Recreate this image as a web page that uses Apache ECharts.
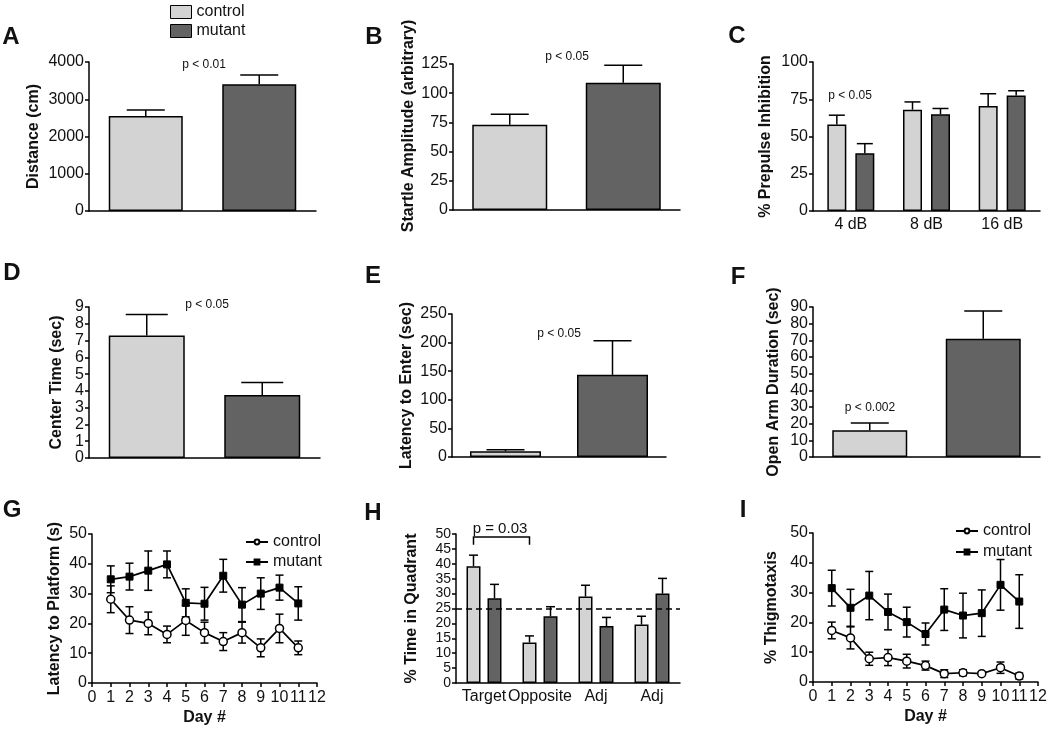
<!DOCTYPE html>
<html>
<head>
<meta charset="utf-8">
<script src="https://cdn.jsdelivr.net/npm/echarts@6/dist/echarts.min.js"></script>
<style>
html,body{margin:0;padding:0;background:#fff;}
#chart{width:1050px;height:731px;}
</style>
</head>
<body>
<div id="chart"></div>
<script>
// ---------- DATA ----------
const groups = ['control', 'mutant'];
// A: Distance (cm)
const distance = [2550, 3400];
const distanceErr = [160, 250];
// B: Startle amplitude
const startle = [73, 109];
const startleErr = [9, 15];
// C: % Prepulse inhibition
const ppiCategories = ['4 dB', '8 dB', '16 dB'];
const ppiControl = [58, 68, 70.5];
const ppiControlErr = [6.3, 5.2, 8.2];
const ppiMutant = [38.7, 65, 77.5];
const ppiMutantErr = [6.5, 3.8, 3.2];
// D: Center time (sec)
const centerTime = [7.3, 3.75];
const centerTimeErr = [1.25, 0.75];
// E: Latency to enter (sec)
const latencyEnter = [10, 143.6];
const latencyEnterErr = [2.7, 59.5];
// F: Open arm duration (sec)
const openArm = [16, 71];
const openArmErr = [4.4, 16.6];
// G: Latency to platform (s)
const days = [1, 2, 3, 4, 5, 6, 7, 8, 9, 10, 11];
const platformControl = [28.1, 21.1, 20, 16.3, 21, 16.9, 13.9, 16.9, 11.8, 18.3, 11.8];
const platformControlErr = [4.5, 4.5, 3.8, 2.8, 5, 3.5, 3, 3.5, 3, 4.8, 2.3];
const platformMutant = [34.8, 35.7, 37.7, 39.8, 26.9, 26.6, 36, 26.3, 30, 32, 26.7];
const platformMutantErr = [4.5, 4.5, 6.6, 4.5, 4.7, 5.5, 5.5, 5.7, 5.3, 4.2, 5.6];
// H: % Time in quadrant
const quadrants = ['Target', 'Opposite', 'Adj', 'Adj'];
const quadControl = [39.2, 13.6, 29, 19.6];
const quadControlErr = [3.7, 2.2, 3.8, 2.8];
const quadMutant = [28.4, 22.4, 19.1, 30];
const quadMutantErr = [4.7, 3.2, 2.9, 5.1];
const chanceLevel = 25;
const bracketLevel = 49;
// I: % Thigmotaxis
const thigControl = [17.3, 14.8, 7.8, 8.2, 7, 5.5, 2.8, 3.1, 2.8, 4.8, 2];
const thigControlErr = [2.8, 3.7, 2.2, 2.7, 2.3, 1.5, 1.3, 1, 0.5, 1.9, 1];
const thigMutant = [31.5, 24.9, 29, 23.5, 20.1, 16.1, 24.3, 22.3, 23.1, 32.6, 27];
const thigMutantErr = [6, 6.2, 8.1, 6, 5, 3.7, 7, 7.5, 7.8, 8.5, 9];

// ---------- STYLE ----------
const FONT = 'Liberation Sans, Arial, Helvetica, sans-serif';
const C_CTRL = '#d3d3d3';
const C_MUT = '#636363';
const colors = [C_CTRL, C_MUT];
const AXIS_LINE = {lineStyle: {color: '#000', width: 1.5}};

// grid layout per panel: [left, top, width, height]
const grids = [
  [89, 62, 227, 149],   // A
  [453, 64, 227, 146],  // B
  [813, 62, 227, 149],  // C
  [89, 307, 231, 151],  // D
  [452, 314, 214, 143], // E
  [813, 307, 227, 150], // F
  [92, 534, 225, 149],  // G
  [456, 534, 224, 149], // H
  [813, 533, 225, 149]  // I
];

const xAxes = [], yAxes = [], series = [];

function yAxisDef(i, name, max, interval, nameGap, extra, labelExtra) {
  return Object.assign({
    type: 'value', gridIndex: i, min: 0, max: max, interval: interval,
    name: name, nameLocation: 'middle', nameGap: nameGap,
    nameTextStyle: {fontFamily: FONT, fontSize: 16, fontWeight: 'bold', color: '#111'},
    axisLine: Object.assign({show: true}, AXIS_LINE),
    axisTick: {show: true, length: 4, lineStyle: {color: '#000', width: 1.5}},
    axisLabel: Object.assign({fontFamily: FONT, fontSize: 16, color: '#111', margin: 5,
      showMinLabel: true, showMaxLabel: true, hideOverlap: false,
      formatter: v => String(v)}, labelExtra || {}),
    splitLine: {show: false}
  }, extra || {});
}

function catXAxis(i, cats, showLabels) {
  return {
    type: 'category', gridIndex: i, data: cats,
    axisLine: AXIS_LINE, axisTick: {show: false},
    axisLabel: {show: showLabels, interval: 0, fontFamily: FONT, fontSize: 16, color: '#111', margin: 6},
    splitLine: {show: false}
  };
}

function errRender(capHalf, offsetPx, both) {
  return function (params, api) {
    const x = api.value(0), y = api.value(1), e = api.value(2);
    const mid = api.coord([x, y]);
    const top = api.coord([x, y + e]);
    const bot = api.coord([x, both ? y - e : y]);
    const cx = mid[0] + offsetPx;
    const st = {stroke: '#000', lineWidth: 1.5};
    const ch = [
      {type: 'line', shape: {x1: cx, y1: top[1], x2: cx, y2: bot[1]}, style: st},
      {type: 'line', shape: {x1: cx - capHalf, y1: top[1], x2: cx + capHalf, y2: top[1]}, style: st}
    ];
    if (both) ch.push({type: 'line', shape: {x1: cx - capHalf, y1: bot[1], x2: cx + capHalf, y2: bot[1]}, style: st});
    return {type: 'group', children: ch};
  };
}

function errSeries(i, vals, errs, capHalf, offsetPx, both, xs) {
  return {
    type: 'custom', xAxisIndex: i, yAxisIndex: i, z: both ? 1 : 3,
    silent: true,
    renderItem: errRender(capHalf, offsetPx, both),
    data: vals.map((v, j) => [xs ? xs[j] : j, v, errs[j]])
  };
}

// ---------- LINE PANELS (first so legends pick them) ----------
function linePanel(i, yName, nameGap, ctrl, ctrlErr, mut, mutErr) {
  xAxes[i] = {
    type: 'value', gridIndex: i, min: 0, max: 12, interval: 1,
    name: 'Day #', nameLocation: 'middle', nameGap: 27,
    nameTextStyle: {fontFamily: FONT, fontSize: 16, fontWeight: 'bold', color: '#111'},
    axisLine: AXIS_LINE,
    axisTick: {show: true, length: 4, lineStyle: {color: '#000', width: 1.5}},
    axisLabel: {fontFamily: FONT, fontSize: 16, color: '#111', margin: 7,
      showMinLabel: true, showMaxLabel: true},
    splitLine: {show: false}
  };
  yAxes[i] = yAxisDef(i, yName, 50, 10, nameGap);
  series.push({
    name: 'control', type: 'line', xAxisIndex: i, yAxisIndex: i, z: 3,
    data: days.map((d, j) => [d, ctrl[j]]),
    symbol: 'circle', symbolSize: 8,
    itemStyle: {color: '#fff', borderColor: '#000', borderWidth: 1.5},
    lineStyle: {color: '#000', width: 1.7}
  });
  series.push({
    name: 'mutant', type: 'line', xAxisIndex: i, yAxisIndex: i, z: 3,
    data: days.map((d, j) => [d, mut[j]]),
    symbol: 'rect', symbolSize: 7,
    itemStyle: {color: '#000', borderColor: '#000', borderWidth: 1},
    lineStyle: {color: '#000', width: 1.7}
  });
  series.push(errSeries(i, ctrl, ctrlErr, 4, 0, true, days));
  series.push(errSeries(i, mut, mutErr, 4, 0, true, days));
}
linePanel(6, 'Latency to Platform (s)', 29, platformControl, platformControlErr, platformMutant, platformMutantErr);
linePanel(8, '% Thigmotaxis', 33, thigControl, thigControlErr, thigMutant, thigMutantErr);

// ---------- SIMPLE TWO-BAR PANELS ----------
function twoBarPanel(i, yName, max, interval, nameGap, vals, errs, barWidth, capHalf, yExtra) {
  xAxes[i] = catXAxis(i, groups, false);
  yAxes[i] = yAxisDef(i, yName, max, interval, nameGap, yExtra);
  series.push({
    type: 'bar', xAxisIndex: i, yAxisIndex: i, barWidth: barWidth,
    data: vals.map((v, j) => ({value: v, itemStyle: {color: colors[j]}})),
    itemStyle: {borderColor: '#000', borderWidth: 1.5}
  });
  series.push(errSeries(i, vals, errs, capHalf, 0, false));
}
twoBarPanel(0, 'Distance (cm)', 4000, 1000, 47, distance, distanceErr, 74, 19);
twoBarPanel(1, 'Startle Amplitude (arbitrary)', 125, 25, 36, startle, startleErr, 75, 19,
  {nameTextStyle: {fontFamily: FONT, fontSize: 16, fontWeight: 'bold', color: '#111', padding: [0, 0, 0, 22]}});
twoBarPanel(3, 'Center Time (sec)', 9, 1, 24, centerTime, centerTimeErr, 76, 21);
twoBarPanel(4, 'Latency to Enter (sec)', 250, 50, 37, latencyEnter, latencyEnterErr, 71, 19);
twoBarPanel(5, 'Open Arm Duration (sec)', 90, 10, 31, openArm, openArmErr, 75, 19);

// ---------- GROUPED BAR PANELS ----------
function groupedPanel(i, cats, yName, max, interval, nameGap, ctrl, ctrlErr, mut, mutErr, barWidth, gapPx, capHalf, extra, labelExtra) {
  xAxes[i] = catXAxis(i, cats, true);
  yAxes[i] = yAxisDef(i, yName, max, interval, nameGap, null, labelExtra);
  const off = (barWidth + gapPx) / 2;
  const ctrlBar = {
    name: 'control', type: 'bar', xAxisIndex: i, yAxisIndex: i,
    barWidth: barWidth, barGap: (gapPx / barWidth * 100) + '%',
    data: ctrl, itemStyle: {color: C_CTRL, borderColor: '#000', borderWidth: 1.5}
  };
  if (extra) Object.assign(ctrlBar, extra);
  series.push(ctrlBar);
  series.push({
    name: 'mutant', type: 'bar', xAxisIndex: i, yAxisIndex: i,
    barWidth: barWidth, barGap: (gapPx / barWidth * 100) + '%',
    data: mut, itemStyle: {color: C_MUT, borderColor: '#000', borderWidth: 1.5}
  });
  series.push(errSeries(i, ctrl, ctrlErr, capHalf, -off, false));
  series.push(errSeries(i, mut, mutErr, capHalf, off, false));
}
groupedPanel(2, ppiCategories, '% Prepulse Inhibition', 100, 25, 39,
  ppiControl, ppiControlErr, ppiMutant, ppiMutantErr, 19, 9, 8);
groupedPanel(7, quadrants, '% Time in Quadrant', 50, 5, 36,
  quadControl, quadControlErr, quadMutant, quadMutantErr, 14, 7, 4.5,
  {markLine: {silent: true, symbol: 'none', label: {show: false},
    lineStyle: {color: '#000', type: [6, 4], width: 1.5},
    data: [{yAxis: chanceLevel}]}},
  {fontSize: 14, lineHeight: 12});

// significance bracket in H (Target control -> Opposite control)
series.push({
  type: 'custom', xAxisIndex: 7, yAxisIndex: 7, silent: true, z: 4,
  renderItem: function (params, api) {
    const off = (14 + 7) / 2;
    const a = api.coord([0, bracketLevel]);
    const b = api.coord([1, bracketLevel]);
    const leg = api.size([0, 2.6])[1];
    return {type: 'polyline', shape: {points: [
      [a[0] - off, a[1] + leg], [a[0] - off, a[1]], [b[0] - off, b[1]], [b[0] - off, b[1] + leg]
    ]}, style: {stroke: '#000', lineWidth: 1.5, fill: null}};
  },
  data: [[0, bracketLevel]]
});

// ---------- ANNOTATIONS ----------
function txt(x, y, s, size, bold) {
  return {type: 'text', x: x, y: y, style: {text: s, fontFamily: FONT, fontSize: size,
    fontWeight: bold ? 'bold' : 'normal', fill: '#111', textAlign: 'center', textVerticalAlign: 'middle'}};
}
const graphics = [
  txt(11, 37, 'A', 24, true), txt(374, 37, 'B', 24, true), txt(737, 36, 'C', 24, true),
  txt(12, 273, 'D', 24, true), txt(373, 276, 'E', 24, true), txt(738, 277, 'F', 24, true),
  txt(12, 510, 'G', 24, true), txt(373, 513, 'H', 24, true), txt(743, 510, 'I', 24, true),
  txt(204, 65, 'p < 0.01', 12), txt(567, 57, 'p < 0.05', 12), txt(850, 96, 'p < 0.05', 12),
  txt(207, 305, 'p < 0.05', 12), txt(559, 334, 'p < 0.05', 12), txt(870, 408, 'p < 0.002', 12),
  txt(500, 529, 'p = 0.03', 15)
];

const legendText = {fontFamily: FONT, fontSize: 16, color: '#111'};
const option = {
  backgroundColor: '#fff',
  animation: false,
  grid: grids.map(g => ({left: g[0], top: g[1], width: g[2], height: g[3], containLabel: false})),
  xAxis: xAxes,
  yAxis: yAxes,
  legend: [
    {orient: 'vertical', left: 165, top: -1, itemWidth: 21, itemHeight: 13, itemGap: 3,
      selectedMode: false, textStyle: legendText,
      data: [
        {name: 'control', icon: 'rect', itemStyle: {color: C_CTRL, borderColor: '#000', borderWidth: 1}},
        {name: 'mutant', icon: 'rect', itemStyle: {color: C_MUT, borderColor: '#000', borderWidth: 1}}
      ]},
    {orient: 'vertical', left: 240, top: 529, itemWidth: 22, itemHeight: 6, itemGap: 4,
      selectedMode: false, textStyle: legendText, data: ['control', 'mutant']},
    {orient: 'vertical', left: 950, top: 518, itemWidth: 22, itemHeight: 6, itemGap: 5,
      selectedMode: false, textStyle: legendText, data: ['control', 'mutant']}
  ],
  graphic: graphics,
  series: series
};

const chart = echarts.init(document.getElementById('chart'), null, {renderer: 'canvas'});
chart.setOption(option);
</script>
</body>
</html>
